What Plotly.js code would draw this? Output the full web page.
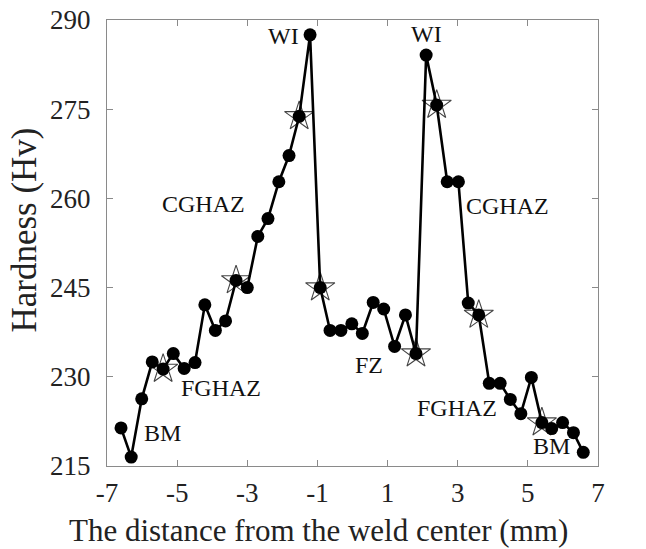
<!DOCTYPE html>
<html>
<head>
<meta charset="utf-8">
<script src="https://cdn.plot.ly/plotly-3.0.1.min.js"></script>
<style>
  html, body { margin: 0; padding: 0; background: #fff; }
  #chart { width: 646px; height: 549px; }
</style>
</head>
<body>
<div id="chart"></div>
<script>
// Microhardness traverse across the weld (mm from weld centre, Hv)
const distance = [-6.60, -6.31, -6.01, -5.71, -5.40, -5.11, -4.80, -4.49, -4.21, -3.91,
                  -3.62, -3.32, -3.00, -2.70, -2.41, -2.10, -1.81, -1.52, -1.21, -0.92,
                  -0.64, -0.33, -0.02, 0.28, 0.59, 0.89, 1.20, 1.51, 1.81, 2.10,
                  2.40, 2.70, 3.02, 3.30, 3.60, 3.90, 4.21, 4.50, 4.80, 5.10,
                  5.40, 5.68, 5.99, 6.30, 6.58];
const hardness = [221.4, 216.5, 226.3, 232.5, 231.3, 233.9, 231.4, 232.4, 242.1, 237.8,
                  239.4, 246.2, 245.0, 253.6, 256.6, 262.8, 267.2, 273.8, 287.5, 245.0,
                  237.8, 237.8, 238.9, 237.3, 242.5, 241.4, 235.1, 240.4, 233.9, 284.1,
                  275.7, 262.8, 262.8, 242.4, 240.4, 228.9, 228.9, 226.2, 223.8, 229.9,
                  222.3, 221.3, 222.3, 220.6, 217.3];
// indices of the points flagged with a star marker
const starIdx = [4, 11, 17, 19, 28, 30, 34, 40];

const xTicks = [-7, -5, -3, -1, 1, 3, 5, 7];
const yTicks = [215, 230, 245, 260, 275, 290];

const zoneLabels = ['WI', 'WI', 'CGHAZ', 'CGHAZ', 'FGHAZ', 'FGHAZ', 'BM', 'BM', 'FZ'];
const xTitle = 'The distance from the weld center (mm)';
const yTitle = 'Hardness (Hv)';

const serif = 'Liberation Serif, Times New Roman, serif';

const starTrace = {
  x: starIdx.map(i => distance[i]),
  y: starIdx.map(i => hardness[i]),
  mode: 'markers',
  type: 'scatter',
  marker: { symbol: 'star-open', size: 22, color: '#444', line: { width: 1.1, color: '#444' } },
  hoverinfo: 'skip',
  showlegend: false
};

const mainTrace = {
  x: distance,
  y: hardness,
  mode: 'lines+markers',
  type: 'scatter',
  line: { color: '#000', width: 2.6 },
  marker: { symbol: 'circle', size: 13, color: '#000' },
  showlegend: false
};

const labelPos = [
  [-1.98, 287.3], [2.12, 287.6], [-4.25, 259.0], [4.43, 258.65],
  [-3.75, 228.06], [2.98, 224.69], [-5.42, 220.47], [5.66, 218.28], [0.457, 232.0]
];

const annotations = zoneLabels.map((t, i) => ({
  x: labelPos[i][0], y: labelPos[i][1], text: t,
  showarrow: false, xanchor: 'center', yanchor: 'middle',
  font: { family: serif, size: 24, color: '#111' }
}));

// axis titles, placed as paper-anchored text
annotations.push({
  xref: 'paper', yref: 'paper', x: -0.082, y: -0.145,
  text: xTitle, showarrow: false, xanchor: 'left', yanchor: 'middle',
  font: { family: serif, size: 31, color: '#222' }
});
annotations.push({
  xref: 'paper', yref: 'paper', x: -0.168, y: 0.529,
  text: yTitle, showarrow: false, textangle: -90, xanchor: 'center', yanchor: 'middle',
  font: { family: serif, size: 35, color: '#222' }
});

const axisCommon = {
  showline: true, linecolor: '#8a8a8a', linewidth: 1, mirror: 'ticks',
  ticks: 'inside', ticklen: 6, tickcolor: '#8a8a8a', tickwidth: 1,
  showgrid: false, zeroline: false,
  tickfont: { family: serif, size: 27, color: '#222' }
};

const layout = {
  width: 646, height: 549,
  margin: { l: 107, r: 48, t: 20, b: 83 },
  paper_bgcolor: '#fff', plot_bgcolor: '#fff',
  xaxis: Object.assign({}, axisCommon, {
    range: [-7, 7], tickvals: xTicks, ticktext: xTicks.map(String),
    ticklabelstandoff: 3
  }),
  yaxis: Object.assign({}, axisCommon, {
    range: [215, 290], tickvals: yTicks, ticktext: yTicks.map(String),
    ticklabelstandoff: 10
  }),
  annotations: annotations
};

Plotly.newPlot('chart', [starTrace, mainTrace], layout, { displayModeBar: false, staticPlot: true });
</script>
</body>
</html>
